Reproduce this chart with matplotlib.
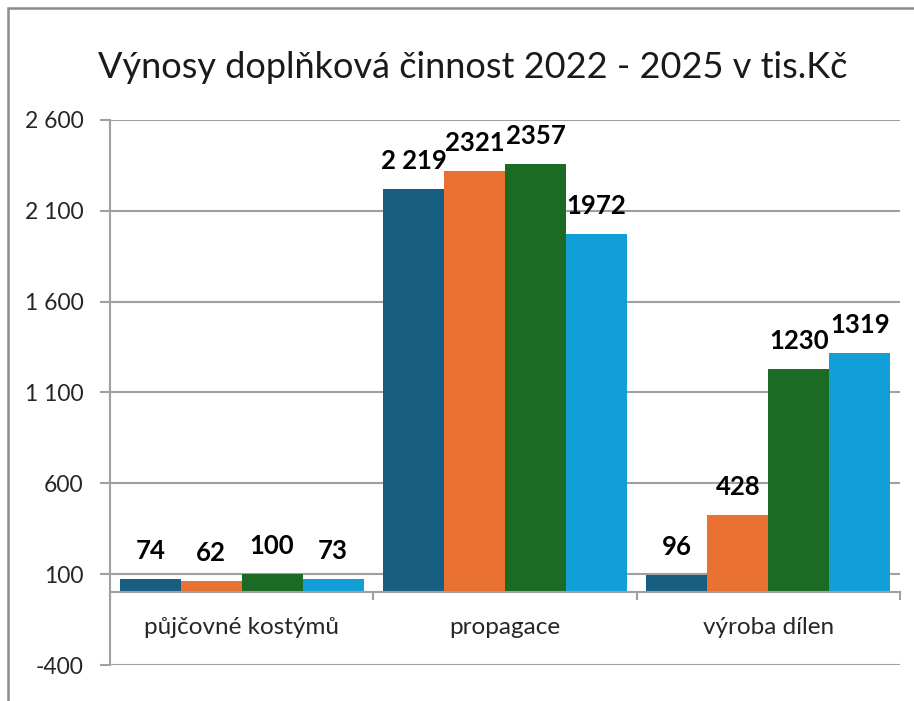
import matplotlib
matplotlib.use("Agg")
import matplotlib.pyplot as plt
from matplotlib.patches import Rectangle
import numpy as np

categories = ["půjčovné kostýmů", "propagace", "výroba dílen"]
years = ["2022", "2023", "2024", "2025"]
v2022 = [74, 2219, 96]
v2023 = [62, 2321, 428]
v2024 = [100, 2357, 1230]
v2025 = [73, 1972, 1319]
series = [v2022, v2023, v2024, v2025]
labels = [["74", "2 219", "96"],
          ["62", "2321", "428"],
          ["100", "2357", "1230"],
          ["73", "1972", "1319"]]
yticks = [-400, 100, 600, 1100, 1600, 2100, 2600]
ytick_labels = ["-400", "100", "600", "1 100", "1 600", "2 100", "2 600"]
colors = ["#175e81", "#e97132", "#1b6b24", "#129fd7"]
grid_c = "#a0a0a0"

plt.rcParams["font.family"] = ["Lato", "DejaVu Sans"]

W, H = 914, 701
fig = plt.figure(figsize=(W / 100, H / 100), dpi=100)
ax = fig.add_axes([110 / W, 1 - 665 / H, 790 / W, 545 / H])

# outer chart border (right/bottom run off the canvas)
fig.patches.append(Rectangle((8 / W, -0.05), 1.1, 1 - 8 / H + 0.05,
                             transform=fig.transFigure, fill=False,
                             edgecolor="#8c8c8c", lw=1.8))

x = np.arange(len(categories))
bw = 0.926 / 4
for i, vals in enumerate(series):
    pos = x - 0.463 + bw * (i + 0.5)
    ax.bar(pos, vals, width=bw, color=colors[i], zorder=2, label=years[i])
    for p, v, s in zip(pos, vals, labels[i]):
        ax.annotate(s, (p, v), xytext=(0, 20), textcoords="offset points",
                    ha="center", va="center", fontsize=18.5, fontweight="bold",
                    color="#000000")

ax.set_xlim(-0.5, 2.5)
ax.set_ylim(-400, 2600)
ax.set_yticks(yticks)
ax.set_yticklabels(ytick_labels)
ax.yaxis.grid(True, color=grid_c, lw=1.5)
ax.set_axisbelow(True)

for s in ["top", "right"]:
    ax.spines[s].set_visible(False)
ax.spines["left"].set_color(grid_c)
ax.spines["left"].set_linewidth(1.5)
ax.spines["bottom"].set_position(("data", 0))
ax.spines["bottom"].set_color(grid_c)
ax.spines["bottom"].set_linewidth(1.5)

ax.set_xticks([-0.5, 0.5, 1.5, 2.5])
ax.set_xticklabels([])
ax.set_xticks(x, minor=True)
ax.set_xticklabels(categories, minor=True)
ax.tick_params(axis="x", which="major", direction="out", length=6,
               color=grid_c, width=1.5)
ax.tick_params(axis="x", which="minor", length=0, pad=18, labelsize=17.5,
               labelcolor="#262626")
ax.tick_params(axis="y", direction="out", length=7, color=grid_c, width=1.5,
               pad=12, labelsize=16.5, labelcolor="#262626")

fig.text(0.517, 1 - 68 / H, "Výnosy doplňková činnost 2022 - 2025 v tis.Kč",
         ha="center", va="center", fontsize=26, color="#1a1a1a")

fig.savefig("out.png", dpi=100)
